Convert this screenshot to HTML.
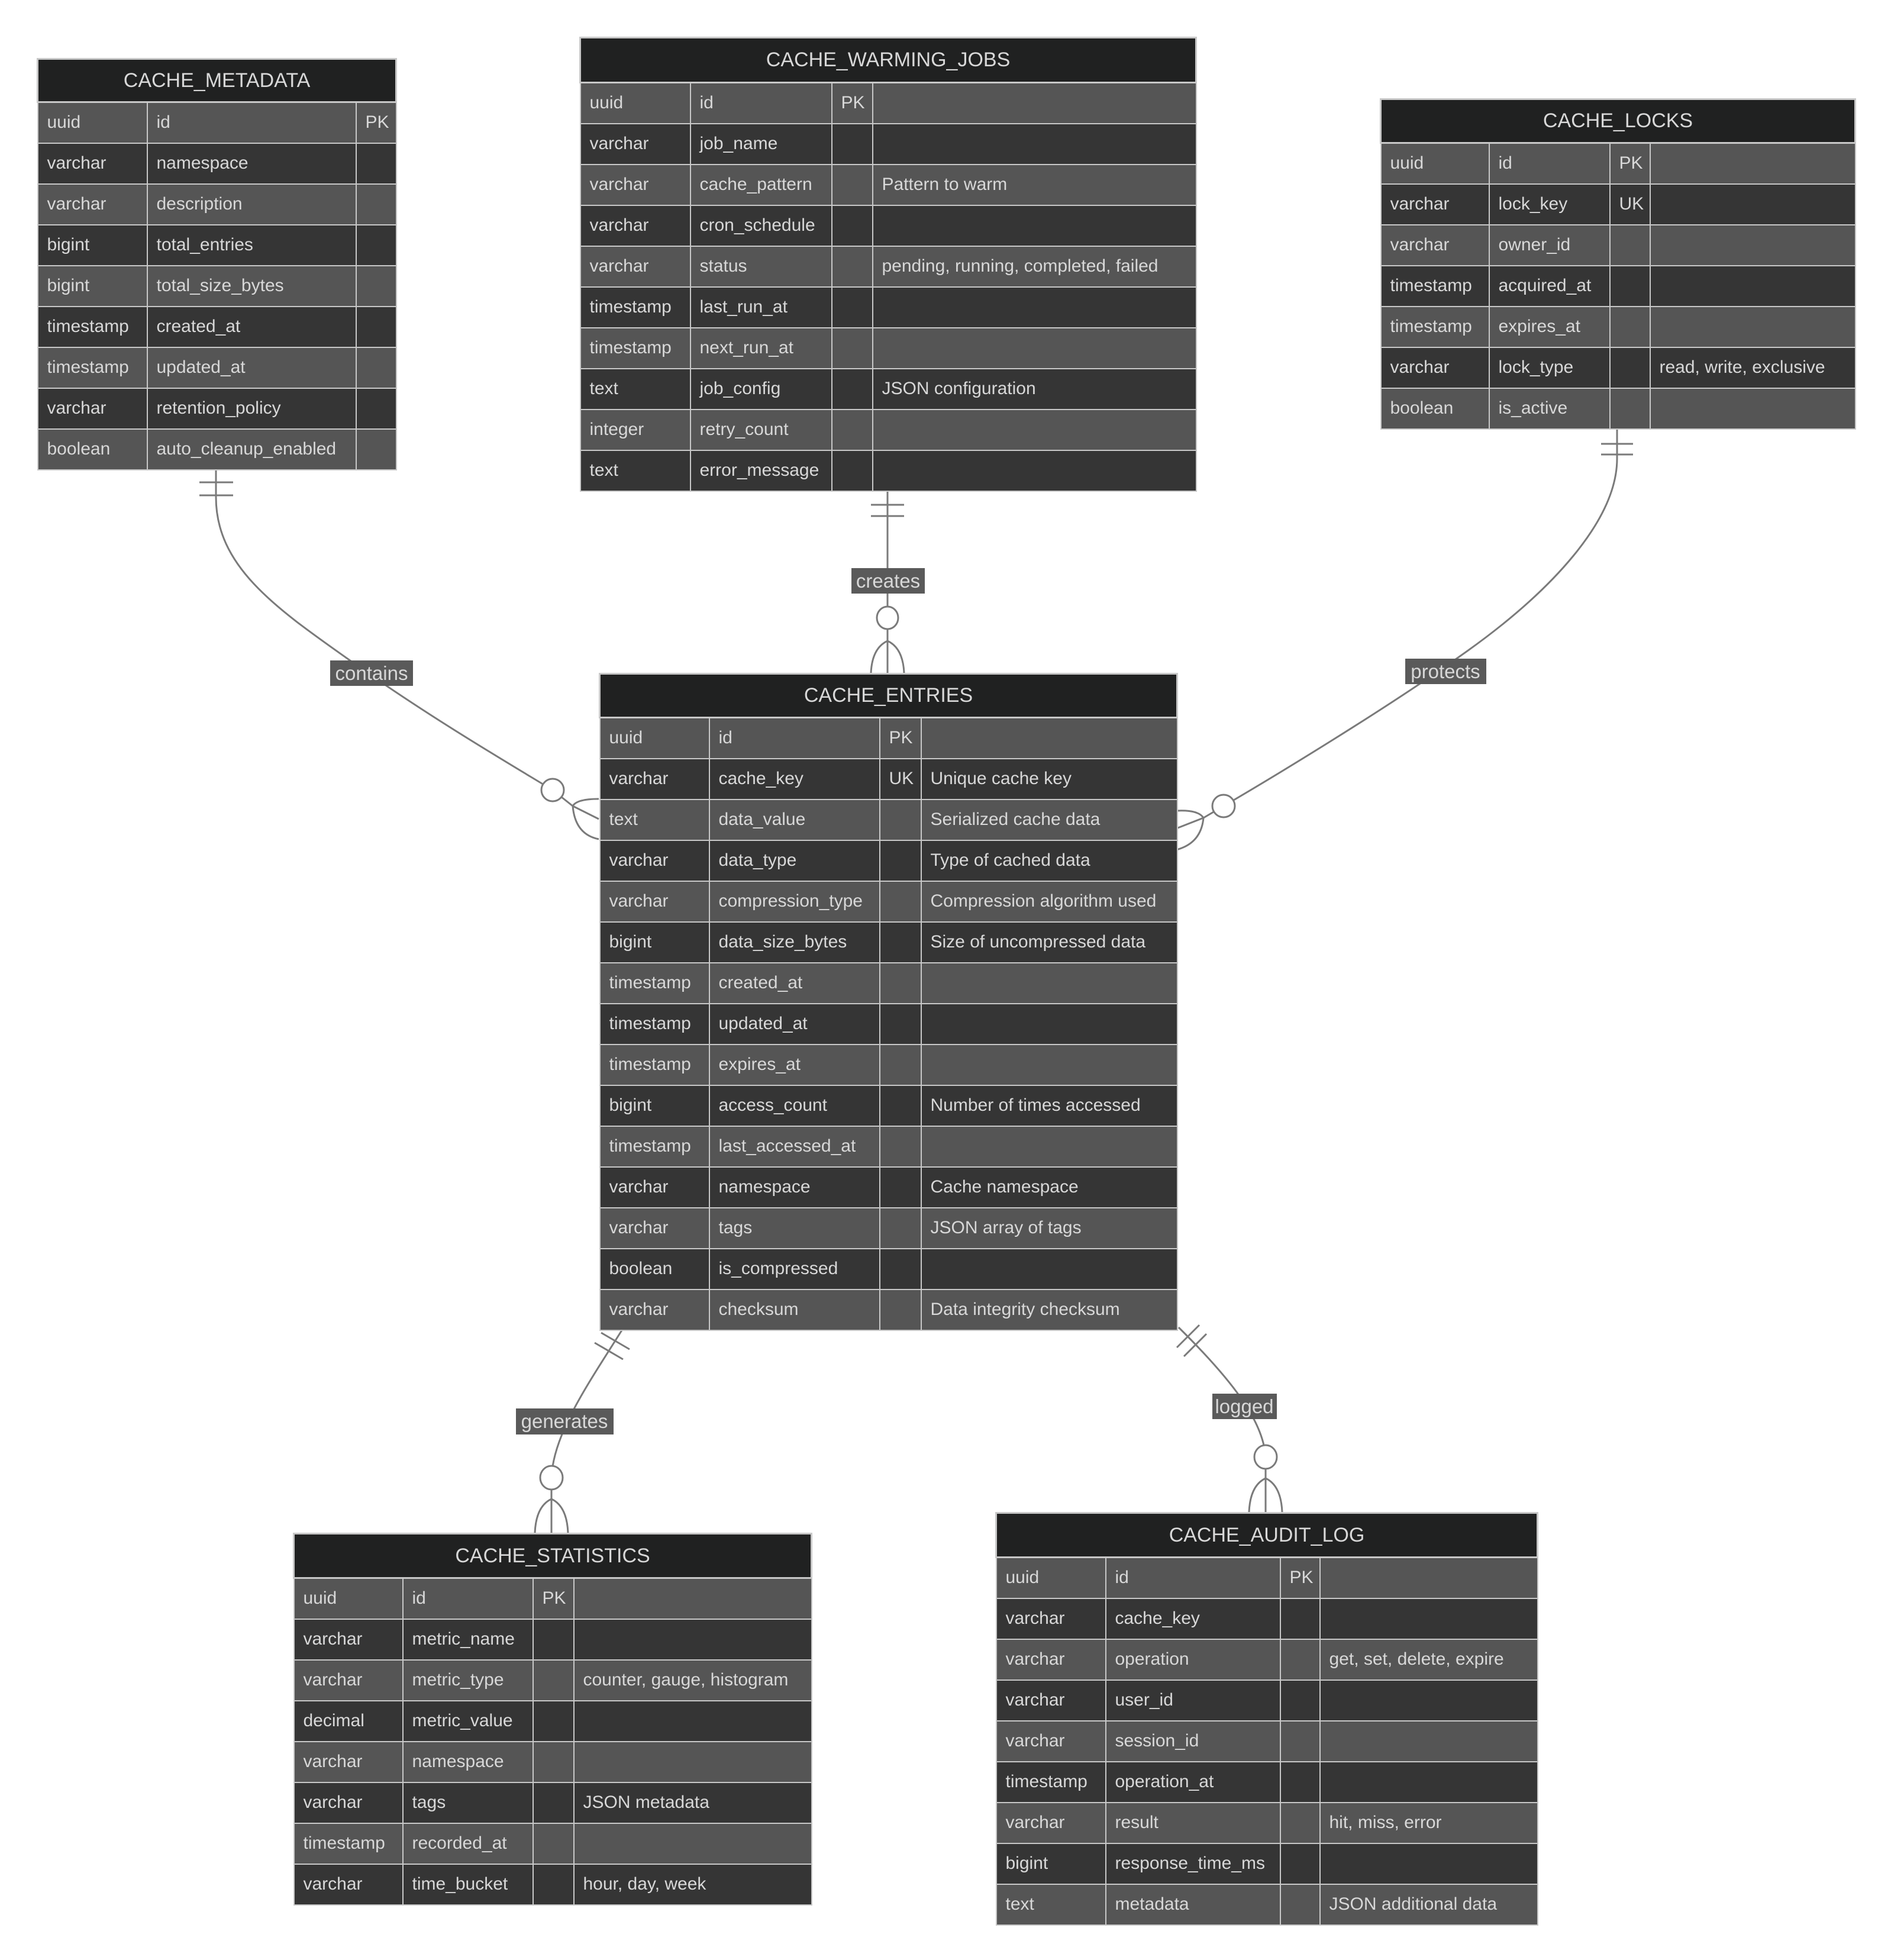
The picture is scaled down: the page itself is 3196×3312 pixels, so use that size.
<!DOCTYPE html>
<html><head><meta charset="utf-8">
<style>
html,body{margin:0;padding:0;background:#fff;}
body{width:3196px;height:3312px;position:relative;overflow:hidden;font-family:"Liberation Sans",sans-serif;}
svg{position:absolute;left:0;top:0;}
table{position:absolute;border-collapse:collapse;table-layout:fixed;color:#d8d8d8;font-size:30px;}
th{background:#202121;font-weight:normal;font-size:34px;text-align:center;border:3px solid #c8c8c8;padding:0;}
td{border:2px solid #c8c8c8;padding:0 0 0 15px;white-space:nowrap;overflow:hidden;}
tr.a td{background:#555555;}
tr.b td{background:#353535;}
</style></head><body>
<svg width="3196" height="3312" viewBox="0 0 3196 3312">
<g fill="none" stroke="#7a7a7a" stroke-width="3">
<!-- contains -->
<path d="M365,792 V840 C365,960 470,1030 600,1122 S860,1290 934,1335 L968,1362 L1012,1384"/>
<line x1="337" y1="815" x2="394" y2="815"/><line x1="337" y1="837" x2="394" y2="837"/>
<path d="M1012,1350 Q975,1350 968,1362 Q972,1410 1012,1418"/>
<!-- creates -->
<line x1="1500" y1="825" x2="1500" y2="1137"/>
<line x1="1472" y1="853" x2="1528" y2="853"/><line x1="1472" y1="872" x2="1528" y2="872"/>
<path d="M1472,1137 Q1474,1095 1500,1083 Q1526,1095 1528,1137"/>
<!-- protects -->
<path d="M2733,722 V775 C2733,880 2620,1000 2480,1100 S2140,1320 2068,1362 L2034,1382 L1988,1400"/>
<line x1="2706" y1="750" x2="2760" y2="750"/><line x1="2706" y1="768" x2="2760" y2="768"/>
<path d="M1988,1370 Q2025,1368 2034,1382 Q2030,1425 1988,1436"/>
<!-- generates -->
<path d="M1054,2243 C1000,2330 935,2420 932,2497 L932,2590"/>
<line x1="1016" y1="2252" x2="1064" y2="2280"/><line x1="1005" y1="2269" x2="1053" y2="2297"/>
<path d="M904,2590 Q906,2545 932,2533 Q958,2545 960,2590"/>
<!-- logged -->
<path d="M1992,2243 C2080,2330 2135,2400 2139,2462 L2139,2555"/>
<line x1="1989" y1="2277" x2="2027" y2="2239"/><line x1="2001" y1="2292" x2="2039" y2="2254"/>
<path d="M2111,2555 Q2113,2510 2139,2498 Q2165,2510 2167,2555"/>
</g>
<g fill="#fff" stroke="#7a7a7a" stroke-width="3">
<ellipse cx="934" cy="1335" rx="19" ry="19"/>
<ellipse cx="1500" cy="1044" rx="18" ry="19"/>
<ellipse cx="2068" cy="1362" rx="19" ry="19"/>
<ellipse cx="932" cy="2497" rx="19" ry="20"/>
<ellipse cx="2139" cy="2462" rx="19" ry="20"/>
</g>
<g fill="#5a5a5a">
<rect x="558" y="1116" width="140" height="43"/>
<rect x="1439" y="960" width="124" height="43"/>
<rect x="2375" y="1113" width="137" height="43"/>
<rect x="872" y="2380" width="165" height="44"/>
<rect x="2049" y="2355" width="109" height="43"/>
</g>
<g fill="#d8d8d8" font-family="Liberation Sans, sans-serif" font-size="33" text-anchor="middle">
<text x="628" y="1149">contains</text>
<text x="1501" y="993">creates</text>
<text x="2443" y="1146">protects</text>
<text x="954" y="2413">generates</text>
<text x="2103" y="2388">logged</text>
</g>
</svg>

<table style="left:62px;top:98px;width:606px;">
<colgroup><col style="width:185px"><col style="width:353px"><col style="width:68px"></colgroup>
<tr style="height:73px"><th colspan="3">CACHE_METADATA</th></tr>
<tr class="a" style="height:69px"><td>uuid</td><td>id</td><td>PK</td></tr>
<tr class="b" style="height:69px"><td>varchar</td><td>namespace</td><td></td></tr>
<tr class="a" style="height:69px"><td>varchar</td><td>description</td><td></td></tr>
<tr class="b" style="height:69px"><td>bigint</td><td>total_entries</td><td></td></tr>
<tr class="a" style="height:69px"><td>bigint</td><td>total_size_bytes</td><td></td></tr>
<tr class="b" style="height:69px"><td>timestamp</td><td>created_at</td><td></td></tr>
<tr class="a" style="height:69px"><td>timestamp</td><td>updated_at</td><td></td></tr>
<tr class="b" style="height:69px"><td>varchar</td><td>retention_policy</td><td></td></tr>
<tr class="a" style="height:69px"><td>boolean</td><td>auto_cleanup_enabled</td><td></td></tr>
</table>

<table style="left:979px;top:62px;width:1041px;">
<colgroup><col style="width:186px"><col style="width:239px"><col style="width:69px"><col style="width:547px"></colgroup>
<tr style="height:76px"><th colspan="4">CACHE_WARMING_JOBS</th></tr>
<tr class="a" style="height:69px"><td>uuid</td><td>id</td><td>PK</td><td></td></tr>
<tr class="b" style="height:69px"><td>varchar</td><td>job_name</td><td></td><td></td></tr>
<tr class="a" style="height:69px"><td>varchar</td><td>cache_pattern</td><td></td><td>Pattern to warm</td></tr>
<tr class="b" style="height:69px"><td>varchar</td><td>cron_schedule</td><td></td><td></td></tr>
<tr class="a" style="height:69px"><td>varchar</td><td>status</td><td></td><td>pending, running, completed, failed</td></tr>
<tr class="b" style="height:69px"><td>timestamp</td><td>last_run_at</td><td></td><td></td></tr>
<tr class="a" style="height:69px"><td>timestamp</td><td>next_run_at</td><td></td><td></td></tr>
<tr class="b" style="height:69px"><td>text</td><td>job_config</td><td></td><td>JSON configuration</td></tr>
<tr class="a" style="height:69px"><td>integer</td><td>retry_count</td><td></td><td></td></tr>
<tr class="b" style="height:69px"><td>text</td><td>error_message</td><td></td><td></td></tr>
</table>

<table style="left:2332px;top:166px;width:802px;">
<colgroup><col style="width:183px"><col style="width:204px"><col style="width:68px"><col style="width:347px"></colgroup>
<tr style="height:74px"><th colspan="4">CACHE_LOCKS</th></tr>
<tr class="a" style="height:69px"><td>uuid</td><td>id</td><td>PK</td><td></td></tr>
<tr class="b" style="height:69px"><td>varchar</td><td>lock_key</td><td>UK</td><td></td></tr>
<tr class="a" style="height:69px"><td>varchar</td><td>owner_id</td><td></td><td></td></tr>
<tr class="b" style="height:69px"><td>timestamp</td><td>acquired_at</td><td></td><td></td></tr>
<tr class="a" style="height:69px"><td>timestamp</td><td>expires_at</td><td></td><td></td></tr>
<tr class="b" style="height:69px"><td>varchar</td><td>lock_type</td><td></td><td>read, write, exclusive</td></tr>
<tr class="a" style="height:69px"><td>boolean</td><td>is_active</td><td></td><td></td></tr>
</table>

<table style="left:1012px;top:1137px;width:976px;">
<colgroup><col style="width:185px"><col style="width:288px"><col style="width:70px"><col style="width:433px"></colgroup>
<tr style="height:74px"><th colspan="4">CACHE_ENTRIES</th></tr>
<tr class="a" style="height:69px"><td>uuid</td><td>id</td><td>PK</td><td></td></tr>
<tr class="b" style="height:69px"><td>varchar</td><td>cache_key</td><td>UK</td><td>Unique cache key</td></tr>
<tr class="a" style="height:69px"><td>text</td><td>data_value</td><td></td><td>Serialized cache data</td></tr>
<tr class="b" style="height:69px"><td>varchar</td><td>data_type</td><td></td><td>Type of cached data</td></tr>
<tr class="a" style="height:69px"><td>varchar</td><td>compression_type</td><td></td><td>Compression algorithm used</td></tr>
<tr class="b" style="height:69px"><td>bigint</td><td>data_size_bytes</td><td></td><td>Size of uncompressed data</td></tr>
<tr class="a" style="height:69px"><td>timestamp</td><td>created_at</td><td></td><td></td></tr>
<tr class="b" style="height:69px"><td>timestamp</td><td>updated_at</td><td></td><td></td></tr>
<tr class="a" style="height:69px"><td>timestamp</td><td>expires_at</td><td></td><td></td></tr>
<tr class="b" style="height:69px"><td>bigint</td><td>access_count</td><td></td><td>Number of times accessed</td></tr>
<tr class="a" style="height:69px"><td>timestamp</td><td>last_accessed_at</td><td></td><td></td></tr>
<tr class="b" style="height:69px"><td>varchar</td><td>namespace</td><td></td><td>Cache namespace</td></tr>
<tr class="a" style="height:69px"><td>varchar</td><td>tags</td><td></td><td>JSON array of tags</td></tr>
<tr class="b" style="height:69px"><td>boolean</td><td>is_compressed</td><td></td><td></td></tr>
<tr class="a" style="height:69px"><td>varchar</td><td>checksum</td><td></td><td>Data integrity checksum</td></tr>
</table>

<table style="left:495px;top:2590px;width:875px;">
<colgroup><col style="width:184px"><col style="width:220px"><col style="width:69px"><col style="width:402px"></colgroup>
<tr style="height:75px"><th colspan="4">CACHE_STATISTICS</th></tr>
<tr class="a" style="height:69px"><td>uuid</td><td>id</td><td>PK</td><td></td></tr>
<tr class="b" style="height:69px"><td>varchar</td><td>metric_name</td><td></td><td></td></tr>
<tr class="a" style="height:69px"><td>varchar</td><td>metric_type</td><td></td><td>counter, gauge, histogram</td></tr>
<tr class="b" style="height:69px"><td>decimal</td><td>metric_value</td><td></td><td></td></tr>
<tr class="a" style="height:69px"><td>varchar</td><td>namespace</td><td></td><td></td></tr>
<tr class="b" style="height:69px"><td>varchar</td><td>tags</td><td></td><td>JSON metadata</td></tr>
<tr class="a" style="height:69px"><td>timestamp</td><td>recorded_at</td><td></td><td></td></tr>
<tr class="b" style="height:69px"><td>varchar</td><td>time_bucket</td><td></td><td>hour, day, week</td></tr>
</table>

<table style="left:1682px;top:2555px;width:915px;">
<colgroup><col style="width:185px"><col style="width:295px"><col style="width:67px"><col style="width:368px"></colgroup>
<tr style="height:75px"><th colspan="4">CACHE_AUDIT_LOG</th></tr>
<tr class="a" style="height:69px"><td>uuid</td><td>id</td><td>PK</td><td></td></tr>
<tr class="b" style="height:69px"><td>varchar</td><td>cache_key</td><td></td><td></td></tr>
<tr class="a" style="height:69px"><td>varchar</td><td>operation</td><td></td><td>get, set, delete, expire</td></tr>
<tr class="b" style="height:69px"><td>varchar</td><td>user_id</td><td></td><td></td></tr>
<tr class="a" style="height:69px"><td>varchar</td><td>session_id</td><td></td><td></td></tr>
<tr class="b" style="height:69px"><td>timestamp</td><td>operation_at</td><td></td><td></td></tr>
<tr class="a" style="height:69px"><td>varchar</td><td>result</td><td></td><td>hit, miss, error</td></tr>
<tr class="b" style="height:69px"><td>bigint</td><td>response_time_ms</td><td></td><td></td></tr>
<tr class="a" style="height:69px"><td>text</td><td>metadata</td><td></td><td>JSON additional data</td></tr>
</table>
</body></html>
